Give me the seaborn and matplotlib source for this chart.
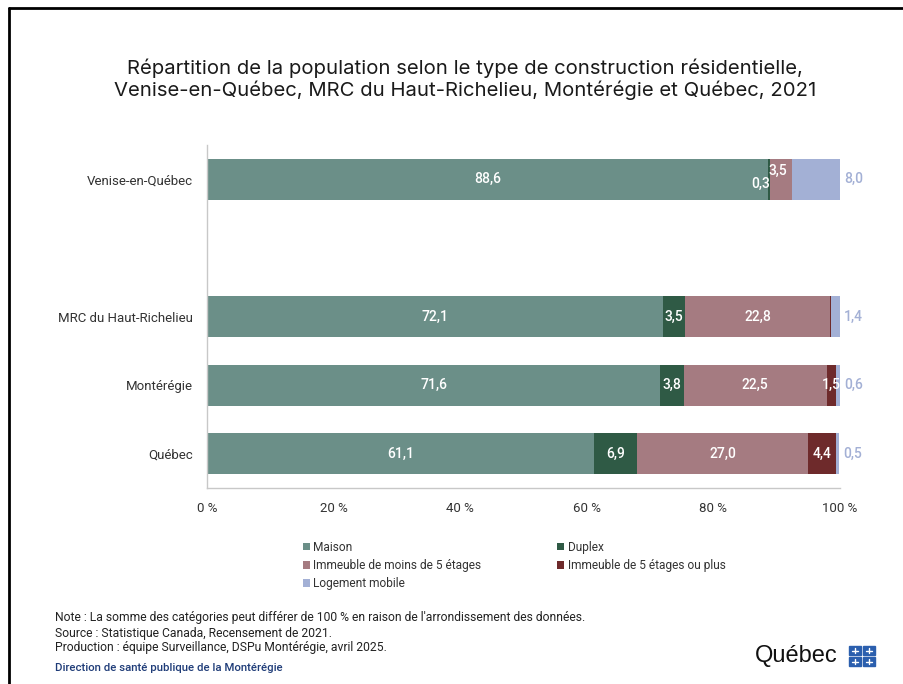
import numpy as np
import pandas as pd
import seaborn as sns
import matplotlib.pyplot as plt
from matplotlib.lines import Line2D
from matplotlib.patches import Rectangle

# Data (%)
regions = ['Venise-en-Québec', 'MRC du Haut-Richelieu', 'Montérégie', 'Québec']
categories = ['Maison', 'Duplex', 'Immeuble de moins de 5 étages',
              'Immeuble de 5 étages ou plus', 'Logement mobile']
maison = [88.6, 72.1, 71.6, 61.1]
duplex = [0.3, 3.5, 3.8, 6.9]
moins5 = [3.5, 22.8, 22.5, 27.0]
plus5 = [0.0, 0.2, 1.5, 4.4]
mobile = [8.0, 1.4, 0.6, 0.5]
colors = ['#6b8f88', '#2f5a45', '#a57b81', '#6e2a2b', '#a3b0d5']

# blank slot between Venise and the MRC
order = [regions[0], ' ', regions[1], regions[2], regions[3]]

df = pd.DataFrame({'region': regions, 'Maison': maison, 'Duplex': duplex,
                   categories[2]: moins5, categories[3]: plus5,
                   'Logement mobile': mobile})
cum = df[categories].cumsum(axis=1)
for c in categories:
    df['cum_' + c] = cum[c]

sns.set_style('white')
plt.rcParams['font.family'] = ['Roboto', 'DejaVu Sans']

fig = plt.figure(figsize=(9.04, 6.84), dpi=100)
ax = fig.add_axes([0.229, 0.2865, 0.700, 0.5015])

# stacked bars: draw the cumulative totals from the longest down
for c, col in reversed(list(zip(categories, colors))):
    sns.barplot(data=df, x='cum_' + c, y='region', order=order, orient='h',
                color=col, saturation=1, width=0.6, errorbar=None,
                label=c, ax=ax, linewidth=0)

def fmt(v):
    return f'{v:.1f}'.replace('.', ',')

# value labels
for i, r in enumerate(regions):
    ypos = order.index(r)
    row = df.iloc[i]
    for c in categories[:4]:
        v = row[c]
        if v < 1.0 and not (r == 'Venise-en-Québec' and c == 'Duplex'):
            continue
        mid = row['cum_' + c] - v / 2
        dx, dy = 0, 0
        if r == 'Venise-en-Québec' and c == 'Duplex':
            dx, dy = -1.3, 0.06
        if r == 'Venise-en-Québec' and c == categories[2]:
            dx, dy = -0.4, -0.12
        ax.text(mid + dx, ypos + dy, fmt(v), ha='center', va='center',
                color='white', fontsize=10, fontweight='medium')
    ax.text(min(row['cum_Logement mobile'], 100) + 0.7, ypos, fmt(row['Logement mobile']),
            ha='left', va='center', color=colors[4], fontsize=10, fontweight='medium')

ax.set_xlim(0, 100)
ax.set_ylim(4.5, -0.5)
ax.set_xticks([0, 20, 40, 60, 80, 100])
ax.set_xticklabels([f'{t} %' for t in [0, 20, 40, 60, 80, 100]])
ax.set_xlabel('')
ax.set_ylabel('')
ax.tick_params(axis='x', length=4, color='#c8c8c8', pad=6, labelsize=9.5, labelcolor='#333333')
ax.tick_params(axis='y', length=0, pad=10, labelsize=9.5, labelcolor='#333333')
for s in ['top', 'right']:
    ax.spines[s].set_visible(False)
for s in ['left', 'bottom']:
    ax.spines[s].set_color('#c8c8c8')
    ax.spines[s].set_linewidth(1)

# legend, row-wise in two columns
h, l = ax.get_legend_handles_labels()
lookup = dict(zip(l, h))
leg_order = [categories[0], categories[2], categories[4], categories[1], categories[3]]
ax.legend([lookup[k] for k in leg_order], leg_order, ncol=2, loc='upper left',
          bbox_to_anchor=(292 / 904, 1 - 530 / 684), bbox_transform=fig.transFigure,
          frameon=False, fontsize=8.6, handlelength=0.6, handleheight=0.6,
          handletextpad=0.3, columnspacing=6.3, labelspacing=0.45,
          labelcolor='#333333')

# title
fig.text(0.514, 0.884, 'Répartition de la population selon le type de construction résidentielle,\n'
         'Venise-en-Québec, MRC du Haut-Richelieu, Montérégie et Québec, 2021',
         ha='center', va='center', fontsize=14.6, color='#1a1a1a', linespacing=1.15,
         family=['Inter', 'DejaVu Sans'])

# notes
notes = ["Note : La somme des catégories peut différer de 100 % en raison de l'arrondissement des données.",
         'Source : Statistique Canada, Recensement de 2021.',
         'Production : équipe Surveillance, DSPu Montérégie, avril 2025.']
for k, t in enumerate(notes):
    fig.text(55 / 904, 1 - (618 + 15 * k) / 684, t, ha='left', va='center',
             fontsize=8.7, color='#222222', family=['Liberation Sans Narrow', 'Roboto'])
fig.text(55 / 904, 1 - 668 / 684, 'Direction de santé publique de la Montérégie',
         ha='left', va='center', fontsize=8.2, color='#1f3c78', fontweight='medium')

# Québec wordmark
fig.text(838 / 904, 1 - 656 / 684, 'Québec', ha='right', va='center',
         fontsize=17, color='#111111', family=['Liberation Sans', 'DejaVu Sans'])
for sx, sy in [(849, 646), (863, 646), (849, 657), (863, 657)]:
    fig.add_artist(Rectangle((sx / 904, 1 - (sy + 9) / 684), 12 / 904, 9 / 684,
                             transform=fig.transFigure, color='#2b5fae'))
    fig.add_artist(Line2D([(sx + 6) / 904] * 2, [1 - (sy + 2) / 684, 1 - (sy + 7) / 684],
                          transform=fig.transFigure, color='white', linewidth=1))
    fig.add_artist(Line2D([(sx + 3) / 904, (sx + 9) / 904], [1 - (sy + 4.5) / 684] * 2,
                          transform=fig.transFigure, color='white', linewidth=1))

# frame lines (left and top)
fig.add_artist(Line2D([9 / 904, 9 / 904], [0, 1 - 8 / 684], transform=fig.transFigure,
                      color='black', linewidth=2))
fig.add_artist(Line2D([9 / 904, 1], [1 - 8 / 684, 1 - 8 / 684], transform=fig.transFigure,
                      color='black', linewidth=2))

fig.savefig('out.png', dpi=100)
